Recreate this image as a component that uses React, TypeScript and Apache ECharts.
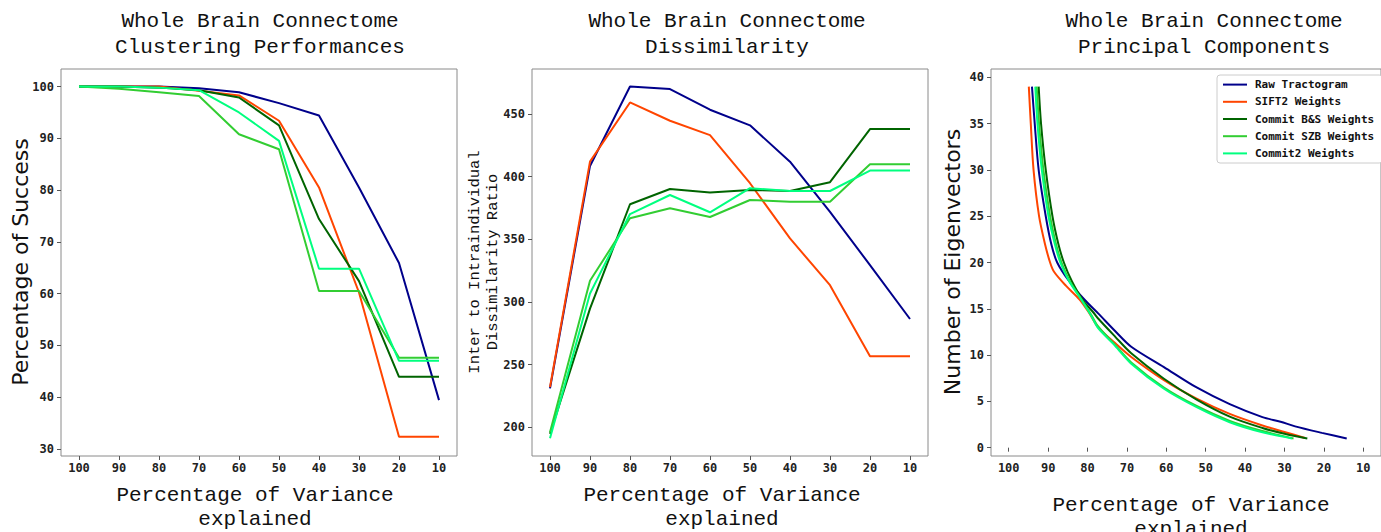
import React, { useEffect, useRef } from "react";
import * as echarts from "echarts";

const variancePct = [100, 90, 80, 70, 60, 50, 40, 30, 20, 10];
const seriesNames = ["Raw Tractogram", "SIFT2 Weights", "Commit B&S Weights", "Commit SZB Weights", "Commit2 Weights"];
const seriesColors = ["#00008B", "#FF4500", "#006400", "#32CD32", "#00FF7F"];

// Panel 1: Clustering performances (% success)
const successRaw = [100, 100, 100, 99.7, 98.9, 96.8, 94.4, 80.5, 65.9, 39.4];
const successSift2 = [100, 100, 100, 99.2, 98.3, 93.4, 80.5, 60.2, 32.3, 32.3];
const successBS = [100, 100, 99.8, 99.3, 97.9, 92.5, 74.4, 62.4, 43.9, 43.9];
const successSZB = [100, 99.6, 98.9, 98.2, 90.8, 87.9, 60.5, 60.5, 47.6, 47.6];
const successC2 = [100, 100, 99.8, 99.3, 95.0, 89.5, 64.8, 64.8, 47.0, 47.0];

// Panel 2: Dissimilarity ratio
const dissRaw = [231, 408.6, 472, 470, 453.5, 441, 412, 372, 329.4, 286.4];
const dissSift2 = [232, 412, 459.3, 444.7, 433.2, 394.8, 350.7, 313.4, 256.6, 256.6];
const dissBS = [194.7, 294.7, 378, 390.2, 387.3, 389.4, 388.6, 395.6, 438, 438];
const dissSZB = [196, 316.9, 366.8, 374.8, 367.8, 381.4, 380, 380, 410, 410];
const dissC2 = [191.2, 306.7, 370.2, 385.4, 371.6, 390.8, 388.6, 388.6, 404.9, 404.9];

// Panel 3: principal components, [variance explained, number of eigenvectors]
const pcRaw = [[94.1, 39], [93.4, 35], [92.4, 30], [90.6, 25], [89.2, 22], [87.7, 20], [84.7, 18], [80.8, 16], [77.3, 14.5], [73, 12.6], [68.9, 10.9], [60.6, 8.7], [52.3, 6.5], [43.9, 4.7], [35.6, 3.3], [31, 2.8], [27.3, 2.3], [20.5, 1.6], [14.2, 1]];
const pcSift2 = [[94.9, 39], [94.4, 35], [93.7, 30], [92.3, 25], [90.8, 22], [89.5, 20], [88.5, 19], [85.5, 17.5], [82, 16], [79.5, 14.5], [77.3, 13], [73, 11.3], [68.9, 9.8], [60.6, 7.3], [52.3, 5.3], [43.9, 3.65], [35.6, 2.4], [30, 1.7], [24.8, 1.05]];
const pcBS = [[92.4, 39], [91.8, 35], [90.6, 30], [88.9, 25], [87.4, 22], [86, 20], [84, 18], [81.3, 16], [78.5, 14.6], [77.3, 13.95], [73, 12], [68.9, 10.2], [60.6, 7.45], [52.3, 5.2], [43.9, 3.36], [35.6, 2.13], [30, 1.5], [24.2, 1]];
const pcSZB = [[92.9, 39], [92.3, 35], [91.2, 30], [89.5, 25], [88, 22], [86.6, 20], [84.5, 18], [81.5, 16], [79, 14.3], [77.3, 13.1], [73, 11.1], [68.9, 9.2], [60.6, 6.5], [52.3, 4.5], [43.9, 2.9], [35.6, 1.8], [27.7, 1]];
const pcC2 = [[93.25, 39], [92.7, 35], [91.6, 30], [89.9, 25], [88.3, 22], [86.9, 20], [84.7, 18], [81.6, 16], [79, 14.2], [77.3, 12.9], [73, 11], [68.9, 9.07], [60.6, 6.36], [52.3, 4.37], [43.9, 2.75], [35.6, 1.66], [28.1, 1]];

const xTicks = [100, 90, 80, 70, 60, 50, 40, 30, 20, 10];
const successTicks = [30, 40, 50, 60, 70, 80, 90, 100];
const dissTicks = [200, 250, 300, 350, 400, 450];
const pcTicks = [0, 5, 10, 15, 20, 25, 30, 35, 40];

const titles = [
  "Whole Brain Connectome\nClustering Performances",
  "Whole Brain Connectome\nDissimilarity",
  "Whole Brain Connectome\nPrincipal Components",
];
const xName = "Percentage of Variance\nexplained";

const tickFont = { fontFamily: "DejaVu Sans Mono", fontWeight: "bold" as const, fontSize: 12, color: "#222" };

function makeX(gridIndex: number) {
  return {
    type: "value",
    gridIndex,
    inverse: true,
    min: 5.5,
    max: 104.5,
    axisLine: { show: false },
    splitLine: { show: false },
    axisTick: { show: true, length: 4, lineStyle: { color: "#555" }, customValues: xTicks },
    axisLabel: { ...tickFont, margin: 6, customValues: xTicks },
  };
}
function makeY(gridIndex: number, min: number, max: number, ticks: number[]) {
  return {
    type: "value",
    gridIndex,
    min,
    max,
    axisLine: { show: false },
    splitLine: { show: false },
    axisTick: { show: true, length: 4, lineStyle: { color: "#555" }, customValues: ticks },
    axisLabel: { ...tickFont, margin: 7, customValues: ticks },
  };
}

export default function App() {
  const ref = useRef<HTMLDivElement>(null);
  useEffect(() => {
    if (!ref.current) return;
    const chart = echarts.init(ref.current, undefined, { renderer: "svg" });
    const panel1 = [successRaw, successSift2, successBS, successSZB, successC2];
    const panel2 = [dissRaw, dissSift2, dissBS, dissSZB, dissC2];
    const panel3 = [pcRaw, pcSift2, pcBS, pcSZB, pcC2];
    const series: any[] = [];
    panel1.forEach((vals, i) => {
      series.push({
        type: "line", name: seriesNames[i], xAxisIndex: 0, yAxisIndex: 0, symbol: "none",
        data: variancePct.map((x, k) => [x, vals[k]]),
        lineStyle: { color: seriesColors[i], width: 2 }, itemStyle: { color: seriesColors[i] },
      });
    });
    panel2.forEach((vals, i) => {
      series.push({
        type: "line", name: seriesNames[i], xAxisIndex: 1, yAxisIndex: 1, symbol: "none",
        data: variancePct.map((x, k) => [x, vals[k]]),
        lineStyle: { color: seriesColors[i], width: 2 }, itemStyle: { color: seriesColors[i] },
      });
    });
    panel3.forEach((pts, i) => {
      series.push({
        type: "line", name: seriesNames[i], xAxisIndex: 2, yAxisIndex: 2, symbol: "none", smooth: 0.3,
        data: pts,
        lineStyle: { color: seriesColors[i], width: 2 }, itemStyle: { color: seriesColors[i] },
      });
    });
    const gridCommon = { top: 69, height: 387, width: 396, show: true, borderColor: "#8a8a8a", borderWidth: 1, backgroundColor: "transparent" };
    const titleStyle = { fontFamily: "Liberation Mono", fontSize: 21, fontWeight: "normal" as const, color: "#111", lineHeight: 26 };
    const nameStyle = { fontFamily: "Liberation Mono", fontSize: 21, fill: "#111", lineHeight: 24 };
    chart.setOption({
      animation: false,
      backgroundColor: "#fff",
      title: [
        { text: titles[0], left: 255, top: 3, textAlign: "center", textStyle: titleStyle },
        { text: titles[1], left: 722, top: 3, textAlign: "center", textStyle: titleStyle },
        { text: titles[2], left: 1199, top: 3, textAlign: "center", textStyle: titleStyle },
      ],
      grid: [
        { ...gridCommon, left: 61 },
        { ...gridCommon, left: 532 },
        { ...gridCommon, left: 991 },
      ],
      xAxis: [makeX(0), makeX(1), makeX(2)],
      yAxis: [
        makeY(0, 28.6, 103.4, successTicks),
        makeY(1, 177, 486, dissTicks),
        makeY(2, -0.9, 40.9, pcTicks),
      ],
      legend: {
        data: seriesNames,
        orient: "vertical",
        left: 1217,
        top: 75,
        itemWidth: 24,
        itemHeight: 14,
        itemGap: 6,
        padding: [4, 8, 4, 5],
        backgroundColor: "#fff",
        borderColor: "#ccc",
        borderWidth: 1,
        borderRadius: 3,
        itemStyle: { opacity: 0 },
        textStyle: { fontFamily: "DejaVu Sans Mono", fontWeight: "bold", fontSize: 11, color: "#111", padding: [0, 0, 0, 3] },
      },
      graphic: [
        { type: "text", x: 255, y: 507, style: { text: xName, ...nameStyle, textAlign: "center", textVerticalAlign: "middle" }, silent: true },
        { type: "text", x: 722, y: 507, style: { text: xName, ...nameStyle, textAlign: "center", textVerticalAlign: "middle" }, silent: true },
        { type: "text", x: 1191, y: 517, style: { text: xName, ...nameStyle, textAlign: "center", textVerticalAlign: "middle" }, silent: true },
        { type: "text", silent: true, rotation: Math.PI / 2, x: 20, y: 262,
          style: { text: "Percentage of Success", fontFamily: "DejaVu Sans", fontSize: 22, fill: "#111", textAlign: "center", textVerticalAlign: "middle" } },
        { type: "text", silent: true, rotation: Math.PI / 2, x: 484, y: 262,
          style: { text: "Inter to Intraindividual\nDissimilarity Ratio", fontFamily: "Liberation Mono", fontSize: 15.5, lineHeight: 18, fill: "#111", textAlign: "center", textVerticalAlign: "middle" } },
        { type: "text", silent: true, rotation: Math.PI / 2, x: 952, y: 262,
          style: { text: "Number of Eigenvectors", fontFamily: "DejaVu Sans", fontSize: 22, fill: "#111", textAlign: "center", textVerticalAlign: "middle" } },
      ],
      series,
    });
    return () => chart.dispose();
  }, []);
  return <div ref={ref} style={{ position: "fixed", left: 0, top: 0, width: 1381, height: 532, background: "#fff" }} />;
}
